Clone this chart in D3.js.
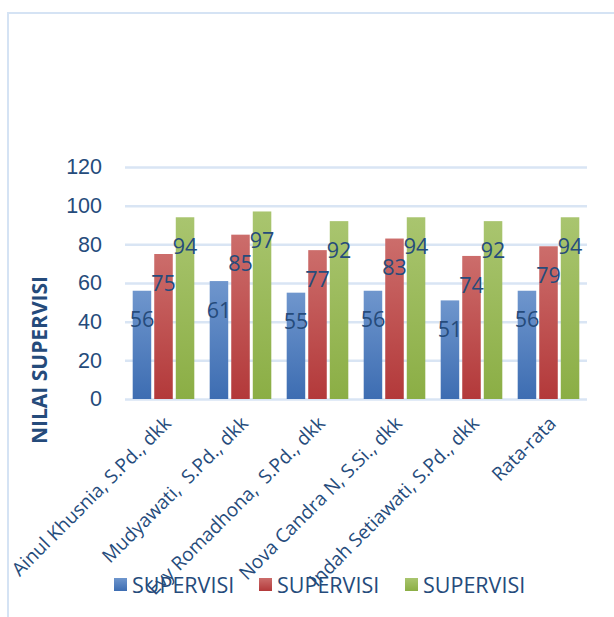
<!DOCTYPE html>
<html lang="id">
<head>
  <meta charset="UTF-8">
  <title>Nilai Supervisi</title>
  <script src="https://d3js.org/d3.v7.min.js"></script>
  <style>
    * { margin: 0; padding: 0; box-sizing: border-box; }
    body { background: #fff; font-family: "Open Sans", sans-serif; }
    .tick text { fill: #254b7b; }
  </style>
</head>
<body>
  <div id="chart"></div>
  <script>
    const categories = ["Ainul Khusnia, S.Pd., dkk", "Mudyawati,  S.Pd., dkk", "Evy Romadhona,  S.Pd., dkk",
                        "Nova Candra N, S.Si., dkk", "Indah Setiawati, S.Pd., dkk", "Rata-rata"];
    const seriesNames = ["SUPERVISI", "SUPERVISI", "SUPERVISI"];
    const blueValues = [56, 61, 55, 56, 51, 56];
    const redValues = [75, 85, 77, 83, 74, 79];
    const greenValues = [94, 97, 92, 94, 92, 94];
    const yTicks = [0, 20, 40, 60, 80, 100, 120];

    const series = [blueValues, redValues, greenValues];
    const grads = [["#6f96cd", "#3d6db2"], ["#cc6d6b", "#b3393a"], ["#a9c56f", "#8bae45"]];
    const textColor = "#254b7b";

    const W = 614, H = 617;
    const margin = {top: 167, right: 27, bottom: 218, left: 125};
    const width = W - margin.left - margin.right,
          height = H - margin.top - margin.bottom;

    const svg = d3.select("#chart").append("svg")
      .attr("width", W).attr("height", H);

    // frame
    svg.append("path")
      .attr("d", `M8,${H + 5} V13 H${W + 5}`)
      .attr("fill", "none")
      .attr("stroke", "#d5e3f4")
      .attr("stroke-width", 2);

    const defs = svg.append("defs");
    grads.forEach((g, i) => {
      const lg = defs.append("linearGradient")
        .attr("id", "g" + i).attr("x1", 0).attr("y1", 0).attr("x2", 0).attr("y2", 1);
      lg.append("stop").attr("offset", "0%").attr("stop-color", g[0]);
      lg.append("stop").attr("offset", "100%").attr("stop-color", g[1]);
    });

    const g = svg.append("g").attr("transform", `translate(${margin.left},${margin.top})`);

    const x0 = d3.scaleBand().domain(categories).range([0, width])
      .paddingInner(0.2).paddingOuter(0.1);
    const x1 = d3.scaleBand().domain([0, 1, 2]).range([0, x0.bandwidth()]).paddingInner(0.14);
    const y = d3.scaleLinear().domain([0, 120]).range([height, 0]);

    const yAxis = g.append("g")
      .call(d3.axisLeft(y).tickValues(yTicks).tickSize(-width).tickPadding(23));
    yAxis.select(".domain").remove();
    yAxis.selectAll("line").attr("stroke", "#d9e5f4").attr("stroke-width", 2.5);
    yAxis.selectAll("text").style("font-size", "21.5px").attr("fill", textColor);

    const groups = g.selectAll(".grp")
      .data(categories)
      .enter().append("g")
      .attr("transform", d => `translate(${x0(d)},0)`);

    series.forEach((vals, si) => {
      groups.append("rect")
        .attr("x", x1(si))
        .attr("width", x1.bandwidth())
        .attr("y", (d, i) => y(vals[i]))
        .attr("height", (d, i) => height - y(vals[i]))
        .attr("fill", `url(#g${si})`);
    });

    series.forEach((vals, si) => {
      groups.append("text")
        .attr("x", x1(si) + x1.bandwidth() / 2)
        .attr("y", (d, i) => y(vals[i]) + 29)
        .attr("dy", "0.36em")
        .attr("text-anchor", "middle")
        .style("font-size", "21.5px")
        .attr("fill", textColor)
        .text((d, i) => vals[i]);
    });

    // x labels
    g.selectAll(".xlab")
      .data(categories)
      .enter().append("text")
      .attr("transform", d => `translate(${x0(d) + x0.bandwidth() / 2 + 4},${height + 21}) rotate(-45)`)
      .attr("text-anchor", "end")
      .attr("dy", "0.35em")
      .style("font-size", "19px")
      .style("white-space", "pre")
      .attr("fill", textColor)
      .text(d => d);

    // y title
    svg.append("text")
      .attr("transform", `translate(40,360) rotate(-90)`)
      .attr("text-anchor", "middle")
      .attr("dy", "0.35em")
      .style("font-size", "21px")
      .style("font-weight", "bold")
      .attr("fill", textColor)
      .text("NILAI SUPERVISI");

    // legend
    const legX = [114, 259, 405];
    const leg = svg.selectAll(".leg")
      .data(seriesNames)
      .enter().append("g")
      .attr("transform", (d, i) => `translate(${legX[i]},585)`);
    leg.append("rect")
      .attr("x", 0).attr("y", -7).attr("width", 13).attr("height", 13)
      .attr("fill", (d, i) => `url(#g${i})`);
    leg.append("text")
      .attr("x", 18).attr("dy", "0.35em")
      .style("font-size", "21.5px")
      .attr("fill", textColor)
      .text(d => d);
  </script>
</body>
</html>
